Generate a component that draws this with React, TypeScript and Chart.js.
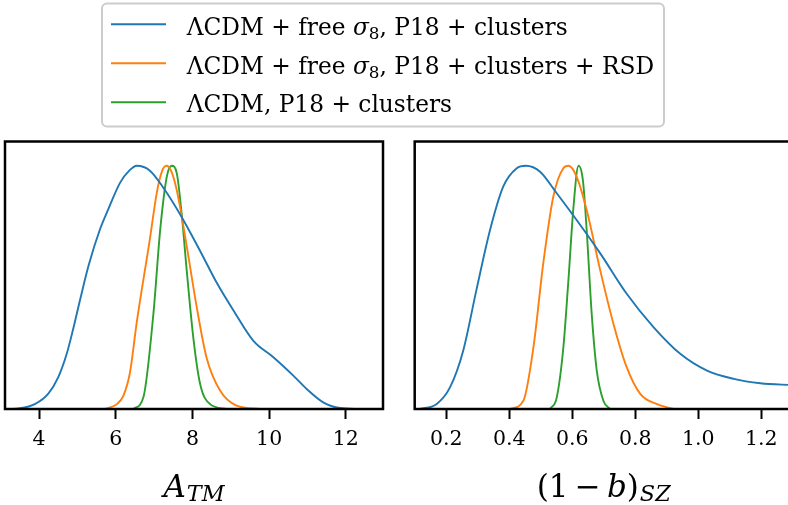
import React, { useEffect, useRef } from "react";
import { Chart, registerables } from "chart.js";

Chart.register(...registerables);

// ---- series labels and colours ----
const SERIES_NAMES = [
  "ΛCDM + free σ8, P18 + clusters",
  "ΛCDM + free σ8, P18 + clusters + RSD",
  "ΛCDM, P18 + clusters",
];
const COLORS = ["#1f77b4", "#ff7f0e", "#2ca02c"];

// ---- left panel: A_TM ----
const A_TICKS = [4, 6, 8, 10, 12];
const A_MIN = 3.11;
const A_MAX = 12.97;

const A_FREE_X = [3.24, 3.46, 3.9, 4.24, 4.5, 4.72, 4.89, 5.07, 5.29, 5.59, 5.8, 6.11, 6.35, 6.55, 6.89, 7.24, 7.68, 8.2, 8.63, 9.07, 9.59, 10.11, 10.63, 10.98, 11.41, 11.85, 12.37];
const A_FREE_Y = [0, 0.002, 0.021, 0.063, 0.131, 0.227, 0.33, 0.45, 0.59, 0.74, 0.82, 0.93, 0.98, 1.0, 0.98, 0.91, 0.8, 0.65, 0.52, 0.405, 0.28, 0.213, 0.1375, 0.0825, 0.0275, 0.004, 0];

const A_RSD_X = [5.7, 6.03, 6.2, 6.37, 6.55, 6.89, 7.07, 7.2, 7.32, 7.44, 7.59, 7.85, 8.11, 8.37, 8.72, 9.15, 9.76];
const A_RSD_Y = [0, 0.02, 0.055, 0.15, 0.36, 0.7, 0.89, 0.975, 1.0, 0.98, 0.9, 0.67, 0.42, 0.21, 0.076, 0.014, 0];

const A_LCDM_X = [6.46, 6.72, 6.98, 7.16, 7.33, 7.46, 7.59, 7.72, 7.85, 8.02, 8.2, 8.46, 8.89];
const A_LCDM_Y = [0, 0.048, 0.39, 0.74, 0.955, 1.0, 0.97, 0.8, 0.57, 0.296, 0.103, 0.02, 0];

// ---- right panel: (1-b)_SZ ----
const B_TICKS = [0.2, 0.4, 0.6, 0.8, 1.0, 1.2];
const B_MIN = 0.1;
const B_MAX = 1.3;

const B_FREE_X = [0.116, 0.169, 0.212, 0.254, 0.296, 0.339, 0.381, 0.424, 0.453, 0.498, 0.551, 0.614, 0.689, 0.773, 0.858, 0.943, 1.028, 1.113, 1.197, 1.3];
const B_FREE_Y = [0, 0.02, 0.089, 0.24, 0.49, 0.735, 0.914, 0.99, 1.0, 0.976, 0.887, 0.777, 0.64, 0.474, 0.337, 0.227, 0.158, 0.124, 0.106, 0.098];

const B_RSD_X = [0.402, 0.445, 0.477, 0.508, 0.54, 0.572, 0.588, 0.614, 0.646, 0.689, 0.731, 0.773, 0.816, 0.869, 0.922];
const B_RSD_Y = [0, 0.034, 0.254, 0.598, 0.873, 0.99, 1.0, 0.956, 0.818, 0.57, 0.35, 0.172, 0.062, 0.02, 0];

const B_LCDM_X = [0.53, 0.551, 0.572, 0.588, 0.604, 0.62, 0.634, 0.646, 0.662, 0.678, 0.699, 0.72];
const B_LCDM_Y = [0, 0.048, 0.254, 0.53, 0.83, 1.0, 0.94, 0.735, 0.39, 0.158, 0.034, 0];

const SERIF = "'DejaVu Serif', 'Liberation Serif', serif";
const W = 788;
const H = 505;

type Seg = { t: string; it?: boolean; sub?: boolean; gap?: number };

function segFont(s: Seg, size: number) {
  const sz = s.sub ? size * 0.72 : size;
  return `${s.it ? "italic " : ""}${sz}px ${SERIF}`;
}

function segsWidth(ctx: CanvasRenderingContext2D, segs: Seg[], size: number) {
  let w = 0;
  for (const s of segs) {
    ctx.font = segFont(s, size);
    w += ctx.measureText(s.t).width + (s.gap || 0);
  }
  return w;
}

function drawSegs(ctx: CanvasRenderingContext2D, segs: Seg[], x: number, y: number, size: number, subDrop: number) {
  ctx.textAlign = "left";
  ctx.textBaseline = "alphabetic";
  for (const s of segs) {
    ctx.font = segFont(s, size);
    x += s.gap || 0;
    ctx.fillText(s.t, x, s.sub ? y + subDrop : y);
    x += ctx.measureText(s.t).width;
  }
  return x;
}

const LEGEND_ROWS: Seg[][] = [
  [{ t: "ΛCDM + free " }, { t: "σ", it: true }, { t: "8", sub: true }, { t: ", P18 + clusters" }],
  [{ t: "ΛCDM + free " }, { t: "σ", it: true }, { t: "8", sub: true }, { t: ", P18 + clusters + RSD" }],
  [{ t: "ΛCDM, P18 + clusters" }],
];

const A_TITLE: Seg[] = [{ t: "A", it: true }, { t: "TM", it: true, sub: true, gap: 1 }];
const B_TITLE: Seg[] = [
  { t: "(1\u2009−\u2009" },
  { t: "b", it: true },
  { t: ")" },
  { t: "SZ", it: true, sub: true, gap: 1 },
];

function toPoints(xs: number[], ys: number[]) {
  return xs.map((x, i) => ({ x, y: ys[i] }));
}

function makeDatasets(series: [number[], number[]][]) {
  return series.map(([xs, ys], i) => ({
    label: SERIES_NAMES[i],
    data: toPoints(xs, ys),
    borderColor: COLORS[i],
    backgroundColor: COLORS[i],
    borderWidth: 1.9,
    pointRadius: 0,
    fill: false,
    cubicInterpolationMode: "monotone" as const,
  }));
}

// box around the plotting area
const framePlugin = {
  id: "frame",
  afterDraw(chart: any) {
    const { ctx, chartArea: a } = chart;
    ctx.save();
    ctx.strokeStyle = "#000";
    ctx.lineWidth = 2.5;
    ctx.strokeRect(a.left, a.top, a.right - a.left, a.bottom - a.top);
    ctx.restore();
  },
};

function titlePlugin(segs: Seg[]) {
  return {
    id: "axisTitle",
    afterDraw(chart: any) {
      const { ctx, chartArea: a } = chart;
      const size = 31;
      ctx.save();
      ctx.fillStyle = "#000";
      const w = segsWidth(ctx, segs, size);
      const cx = (a.left + a.right) / 2;
      drawSegs(ctx, segs, cx - w / 2, 497, size, 4);
      ctx.restore();
    },
  };
}

const legendPlugin = {
  id: "figLegend",
  afterDraw(chart: any) {
    const { ctx } = chart;
    ctx.save();
    const x0 = 102, y0 = 3.5, x1 = 664, y1 = 126.5, r = 5;
    ctx.beginPath();
    ctx.moveTo(x0 + r, y0);
    ctx.arcTo(x1, y0, x1, y1, r);
    ctx.arcTo(x1, y1, x0, y1, r);
    ctx.arcTo(x0, y1, x0, y0, r);
    ctx.arcTo(x0, y0, x1, y0, r);
    ctx.closePath();
    ctx.fillStyle = "rgba(255,255,255,0.8)";
    ctx.fill();
    ctx.strokeStyle = "#cccccc";
    ctx.lineWidth = 2;
    ctx.stroke();

    const lineY = [24.3, 63.3, 102.3];
    const baseY = [35, 74, 112.3];
    LEGEND_ROWS.forEach((segs, i) => {
      ctx.beginPath();
      ctx.moveTo(111, lineY[i]);
      ctx.lineTo(166, lineY[i]);
      ctx.strokeStyle = COLORS[i];
      ctx.lineWidth = 2;
      ctx.stroke();
      ctx.fillStyle = "#000";
      drawSegs(ctx, segs, 186.7, baseY[i], 23.3, 4);
    });
    ctx.restore();
  },
};

function panelOptions(min: number, max: number, ticks: number[], decimals: number, padL: number, padR: number) {
  return {
    responsive: false,
    animation: false as const,
    events: [],
    layout: { padding: { left: padL, right: padR, top: 141.5, bottom: 0 } },
    plugins: { legend: { display: false }, tooltip: { enabled: false }, title: { display: false } },
    scales: {
      x: {
        type: "linear" as const,
        min,
        max,
        afterBuildTicks: (scale: any) => {
          scale.ticks = ticks.map((v) => ({ value: v }));
        },
        afterFit: (scale: any) => {
          scale.height = 96;
        },
        border: { display: false },
        grid: {
          display: true,
          drawOnChartArea: false,
          drawTicks: true,
          tickLength: 10,
          tickWidth: 2,
          tickColor: "#000",
        },
        ticks: {
          autoSkip: false,
          maxRotation: 0,
          padding: 8,
          color: "#000",
          font: { family: SERIF, size: 20.5 },
          callback: (v: any) => Number(v).toFixed(decimals),
        },
      },
      y: { display: false, min: 0, max: 1.1 },
    },
  };
}

export default function App() {
  const leftRef = useRef<HTMLCanvasElement>(null);
  const rightRef = useRef<HTMLCanvasElement>(null);

  useEffect(() => {
    const left = new Chart(leftRef.current!, {
      type: "line",
      data: {
        datasets: makeDatasets([
          [A_FREE_X, A_FREE_Y],
          [A_RSD_X, A_RSD_Y],
          [A_LCDM_X, A_LCDM_Y],
        ]),
      },
      options: panelOptions(A_MIN, A_MAX, A_TICKS, 0, 5, W - 383) as any,
      plugins: [framePlugin, titlePlugin(A_TITLE), legendPlugin],
    });
    const right = new Chart(rightRef.current!, {
      type: "line",
      data: {
        datasets: makeDatasets([
          [B_FREE_X, B_FREE_Y],
          [B_RSD_X, B_RSD_Y],
          [B_LCDM_X, B_LCDM_Y],
        ]),
      },
      options: panelOptions(B_MIN, B_MAX, B_TICKS, 1, 14.7, 7.3) as any,
      plugins: [framePlugin, titlePlugin(B_TITLE)],
    });
    return () => {
      left.destroy();
      right.destroy();
    };
  }, []);

  return (
    <div
      style={{
        position: "absolute",
        left: 0,
        top: 0,
        width: W,
        height: H,
        overflow: "hidden",
        background: "#fff",
      }}
    >
      <canvas ref={leftRef} width={W} height={H} style={{ position: "absolute", left: 0, top: 0 }} />
      <canvas ref={rightRef} width={400} height={H} style={{ position: "absolute", left: 400, top: 0 }} />
    </div>
  );
}
